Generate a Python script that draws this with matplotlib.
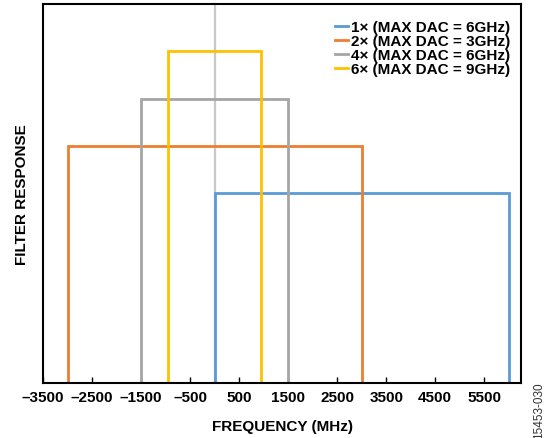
import matplotlib.pyplot as plt

plt.rcParams["font.family"] = ["Liberation Sans", "DejaVu Sans"]

# filter passbands (MHz) and relative response levels
labels = ["1\u00d7 (MAX DAC = 6GHz)", "2\u00d7 (MAX DAC = 3GHz)",
          "4\u00d7 (MAX DAC = 6GHz)", "6\u00d7 (MAX DAC = 9GHz)"]
band_lo = [0, -3000, -1500, -950]
band_hi = [6000, 3000, 1500, 950]
level = [4, 5, 6, 7]
colors = ["#5B9BD5", "#ED7D31", "#A5A5A5", "#FFC000"]
xticks = [-3500, -2500, -1500, -500, 500, 1500, 2500, 3500, 4500, 5500]

fig = plt.figure(figsize=(5.47, 4.39), dpi=100)
ax = fig.add_axes([0.0786, 0.1253, 0.8739, 0.8633])

# zero line
ax.axvline(0, color="#C8C8C8", lw=1.6, zorder=1)

for lo, hi, h, c, lab in zip(band_lo, band_hi, level, colors, labels):
    ax.plot([lo, lo, hi, hi], [0, h, h, 0], color=c, lw=2.0, label=lab,
            solid_joinstyle="miter", zorder=2)

ax.set_xlim(-3500, 6250)
ax.set_ylim(0, 8)
ax.set_xticks(xticks)
ax.set_xticklabels([f"{t}".replace("-", "\u2013") for t in xticks],
                   fontsize=11, fontweight="bold")
ax.set_yticks([])
ax.tick_params(axis="x", direction="in", length=4, width=1, pad=5)
for s in ax.spines.values():
    s.set_linewidth(1.5)

ax.set_xlabel("FREQUENCY (MHz)", fontsize=11, fontweight="bold", labelpad=11)
ax.set_ylabel("FILTER RESPONSE", fontsize=11, fontweight="bold", labelpad=10)

leg = ax.legend(loc="upper right", bbox_to_anchor=(0.999, 0.985), frameon=False,
                handlelength=0.8, handletextpad=0.2, labelspacing=0.0,
                prop={"weight": "bold", "size": 11}, borderaxespad=0.3)

fig.text(0.985, 0.064, "15453-030", rotation=90, fontsize=8.5, color="#333333",
         ha="center", va="center")

fig.savefig("out.png", dpi=100)
